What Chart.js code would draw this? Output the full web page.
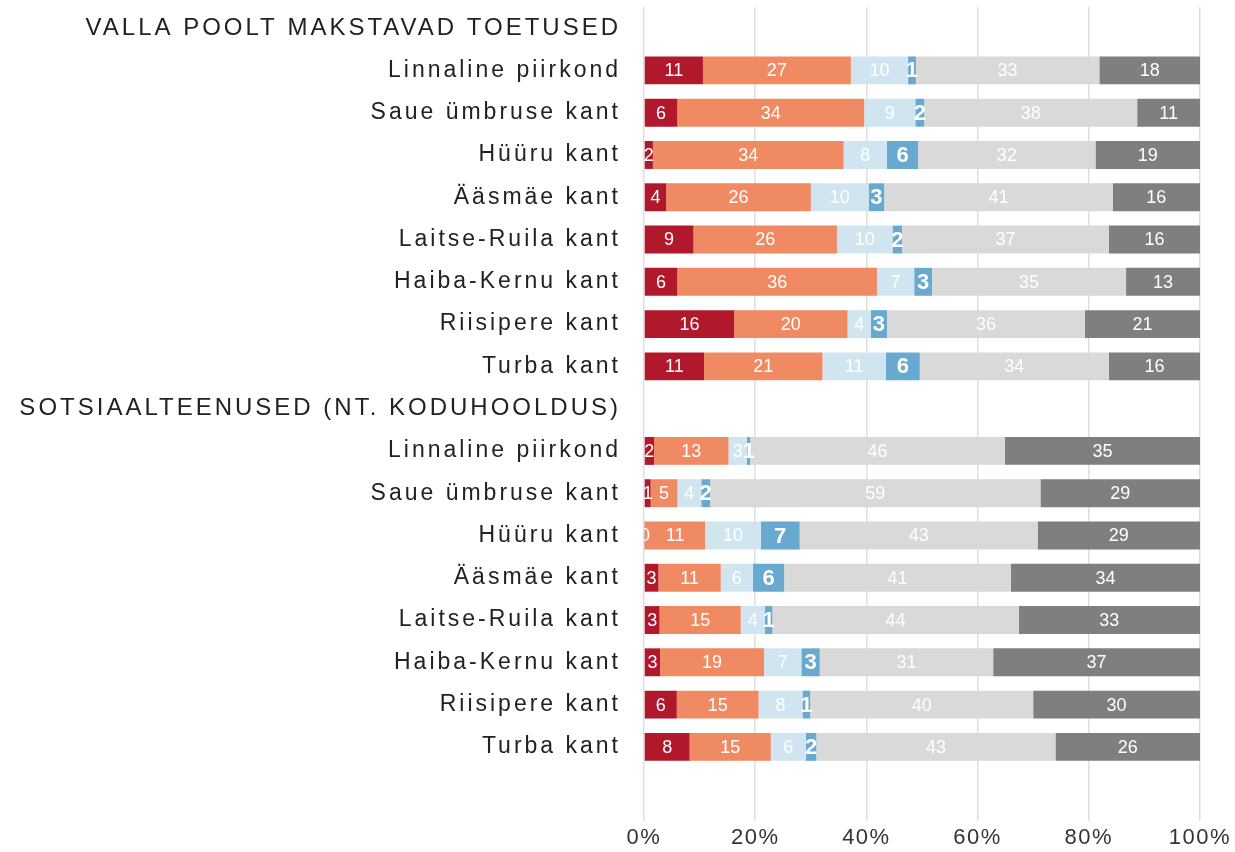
<!DOCTYPE html>
<html>
<head>
<meta charset="utf-8">
<script src="https://cdn.jsdelivr.net/npm/chart.js@4"></script>
<style>
  html, body { margin: 0; padding: 0; background: #fff; }
  #wrap { width: 1235px; height: 852px; position: relative; }
</style>
</head>
<body>
<div id="wrap"><canvas id="myChart"></canvas></div>
<script>
// categories (header rows carry no bars)
var categories = [
  'VALLA POOLT MAKSTAVAD TOETUSED',
  'Linnaline piirkond', 'Saue ümbruse kant', 'Hüüru kant', 'Ääsmäe kant',
  'Laitse-Ruila kant', 'Haiba-Kernu kant', 'Riisipere kant', 'Turba kant',
  'SOTSIAALTEENUSED (NT. KODUHOOLDUS)',
  'Linnaline piirkond', 'Saue ümbruse kant', 'Hüüru kant', 'Ääsmäe kant',
  'Laitse-Ruila kant', 'Haiba-Kernu kant', 'Riisipere kant', 'Turba kant'
];
var headerRows = [0, 9];

// six answer groups, shares in %
var seriesA = [null, 10.6, 6.0, 1.6, 4.0, 8.9, 6.0, 16.2, 10.8, null, 1.8, 1.2, 0.2, 2.6, 2.8, 2.9, 5.9, 8.2];
var seriesB = [null, 26.6, 33.6, 34.3, 26.0, 25.8, 35.9, 20.4, 21.3, null, 13.4, 4.8, 10.8, 11.2, 14.6, 18.7, 14.7, 14.6];
var seriesC = [null, 10.3, 9.2, 7.8, 10.4, 10.0, 6.7, 4.2, 11.4, null, 3.3, 4.3, 10.0, 5.8, 4.3, 6.7, 7.9, 6.3];
var seriesD = [null, 1.4, 1.6, 5.6, 2.8, 1.7, 3.2, 2.9, 6.1, null, 0.6, 1.6, 7.0, 5.6, 1.4, 3.3, 1.4, 1.9];
var seriesE = [null, 33.0, 38.3, 31.9, 41.1, 37.2, 34.9, 35.6, 34.0, null, 45.8, 59.4, 42.8, 40.8, 44.3, 31.2, 40.1, 43.0];
var seriesF = [null, 18.1, 11.3, 18.8, 15.7, 16.4, 13.3, 20.7, 16.4, null, 35.1, 28.7, 29.2, 34.0, 32.6, 37.2, 30.0, 26.0];

var xTicks = [0, 20, 40, 60, 80, 100];

var colors = ['#b2182b', '#ef8a62', '#d1e5f0', '#67a9cf', '#d9d9d9', '#7f7f7f'];
var fontFamily = '"Liberation Sans", Arial, sans-serif';

// letter spacing: wide on category labels, plain in bars, a little on x ticks
var textSpacing = {
  id: 'textSpacing',
  beforeDraw: function(chart) { chart.ctx.letterSpacing = '3px'; },
  beforeDatasetsDraw: function(chart) { chart.ctx.letterSpacing = '0px'; },
  afterDraw: function(chart) { chart.ctx.letterSpacing = '0px'; }
};

var barLabels = {
  id: 'barLabels',
  afterDatasetsDraw: function(chart) {
    var ctx = chart.ctx;
    var area = chart.chartArea;
    ctx.save();
    ctx.beginPath();
    ctx.rect(area.left, area.top, area.right - area.left, area.bottom - area.top);
    ctx.clip();
    ctx.fillStyle = '#fff';
    ctx.textAlign = 'center';
    ctx.textBaseline = 'middle';
    chart.data.datasets.forEach(function(ds, i) {
      var meta = chart.getDatasetMeta(i);
      ctx.font = i == 3 ? 'bold 22px ' + fontFamily : '18px ' + fontFamily;
      meta.data.forEach(function(bar, j) {
        var v = ds.data[j];
        if (v === null) return;
        ctx.fillText(Math.round(v), (bar.x + bar.base) / 2, bar.y + 1);
      });
    });
    ctx.restore();
    ctx.letterSpacing = '1.5px';
  }
};

var myChartObject = document.getElementById('myChart');

var chart = new Chart(myChartObject, {
  type: 'bar',
  data: {
    labels: categories,
    datasets: [
      { data: seriesA, backgroundColor: colors[0] },
      { data: seriesB, backgroundColor: colors[1] },
      { data: seriesC, backgroundColor: colors[2] },
      { data: seriesD, backgroundColor: colors[3] },
      { data: seriesE, backgroundColor: colors[4] },
      { data: seriesF, backgroundColor: colors[5] }
    ]
  },
  options: {
    indexAxis: 'y',
    responsive: true,
    maintainAspectRatio: false,
    animation: false,
    layout: { padding: { top: 7, right: 35, left: 0, bottom: 0 } },
    datasets: { bar: { categoryPercentage: 1, barPercentage: 0.66, borderWidth: 0 } },
    plugins: { legend: { display: false }, tooltip: { enabled: false } },
    scales: {
      x: {
        stacked: true,
        min: 0,
        max: 100,
        afterBuildTicks: function(scale) {
          scale.ticks = xTicks.map(function(v) { return { value: v }; });
        },
        afterFit: function(scale) { scale.height = 84; },
        ticks: {
          callback: function(v) { return v + '%'; },
          color: '#333',
          font: { size: 22, family: fontFamily },
          padding: 4,
          maxRotation: 0,
          z: 1
        },
        grid: { color: '#dedede', lineWidth: 1.5, tickLength: 53, tickColor: '#dedede' },
        border: { display: false }
      },
      y: {
        stacked: true,
        afterFit: function(scale) {
          scale.width = 644;
          scale.paddingTop = 0;
          scale.paddingBottom = 0;
        },
        ticks: {
          color: '#222',
          font: function(c) {
            return { size: headerRows.indexOf(c.index) >= 0 ? 24 : 23, family: fontFamily };
          },
          padding: 23,
          autoSkip: false
        },
        grid: { display: false, drawTicks: false },
        border: { display: false }
      }
    }
  },
  plugins: [textSpacing, barLabels]
});
</script>
</body>
</html>
